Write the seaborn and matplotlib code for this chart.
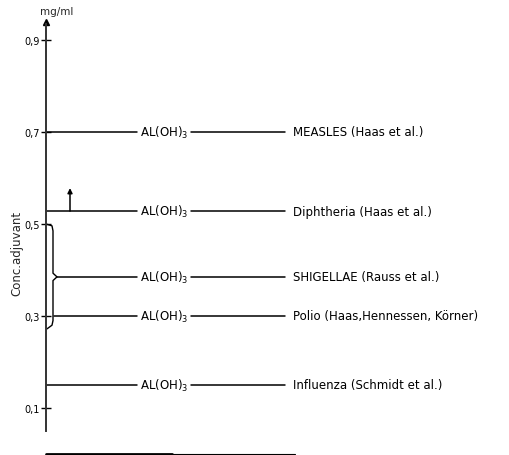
import numpy as np
import pandas as pd
import matplotlib
matplotlib.use("Agg")
import matplotlib.pyplot as plt
import seaborn as sns

# adjuvant concentration (mg/ml) per vaccine
vaccines = ["MEASLES (Haas et al.)",
            "Diphtheria (Haas et al.)",
            "SHIGELLAE (Rauss et al.)",
            "Polio (Haas,Hennessen, Körner)",
            "Influenza (Schmidt et al.)"]
conc = [0.70, 0.528, 0.385, 0.30, 0.15]
adjuvant = "AL(OH)$_3$"
diphtheria_upper = 0.578
bracket_range = [0.30, 0.50]
tick_values = [0.1, 0.3, 0.5, 0.7, 0.9]
tick_labels = ["0,1", "0,3", "0,5", "0,7", "0,9"]

# layout (pixel offsets from the axis line)
line_start = [0, 0, 11, 8, 0]
left_end = 91
right_start = 145
right_end = 239

sns.set_theme(style="white")
plt.rcParams['font.family'] = ['DejaVu Sans']

fig = plt.figure(figsize=(5.09, 4.56), dpi=100)
ax = fig.add_axes([46 / 509, 0, 463 / 509, 1])

rows = []
for i, (name, c) in enumerate(zip(vaccines, conc)):
    rows.append({"seg": f"{i}a", "x": line_start[i], "y": c})
    rows.append({"seg": f"{i}a", "x": left_end, "y": c})
    rows.append({"seg": f"{i}b", "x": right_start, "y": c})
    rows.append({"seg": f"{i}b", "x": right_end, "y": c})
df = pd.DataFrame(rows)

sns.lineplot(data=df, x="x", y="y", units="seg", estimator=None,
             sort=False, color="black", linewidth=1.1, ax=ax, legend=False)

for name, c in zip(vaccines, conc):
    ax.text(left_end + 3, c, adjuvant, ha="left", va="center", fontsize=8.5,
            color="black")
    ax.text(right_end + 8, c, name, ha="left", va="center", fontsize=8.5,
            color="black")

# arrow on diphtheria
ax.annotate("", xy=(24, diphtheria_upper), xytext=(24, conc[1]),
            arrowprops=dict(arrowstyle="-|>", color="black", lw=1.1,
                            mutation_scale=7, shrinkA=0, shrinkB=0))

# brace between 0,3 and 0,5
lo, hi = bracket_range
mid = conc[2]
bx = [0, 6, 7, 7, 11, 7, 7, 6, 1]
by = [hi, hi - 0.004, hi - 0.015, mid + 0.008, mid, mid - 0.008,
      lo - 0.01, lo - 0.02, lo - 0.028]
ax.plot(bx, by, color="black", lw=1.0)

# y axis with arrow
ax.spines["left"].set_bounds(0.05, 0.935)
ax.spines["left"].set_color("#333333")
ax.spines["left"].set_linewidth(1.4)
for s in ["top", "right", "bottom"]:
    ax.spines[s].set_visible(False)
ax.plot([0], [0.94], marker="^", color="black", markersize=5, clip_on=False)

ax.set_xlim(0, 463)
ax.set_ylim(-0.0022, 0.9891)
ax.set_xticks([])
ax.set_yticks(tick_values)
ax.set_yticklabels(tick_labels, fontsize=7)
ax.tick_params(axis="y", direction="inout", length=7, width=1, pad=1,
               left=True, colors="black")
ax.set_xlabel("")
ax.set_ylabel("")

# baseline below the chart
ax.plot([0, 126], [0.0, 0.0], color="black", lw=2, clip_on=False)
ax.plot([126, 249], [0.0, 0.0], color="black", lw=0.8, clip_on=False)

fig.text(17 / 509, 1 - 253 / 456, "Conc.adjuvant", rotation=90,
         ha="center", va="center", fontsize=8.5)
fig.text(57 / 509, 1 - 12 / 456, "mg/ml", ha="center", va="center",
         fontsize=7.5)

fig.savefig("out.png", dpi=100)
